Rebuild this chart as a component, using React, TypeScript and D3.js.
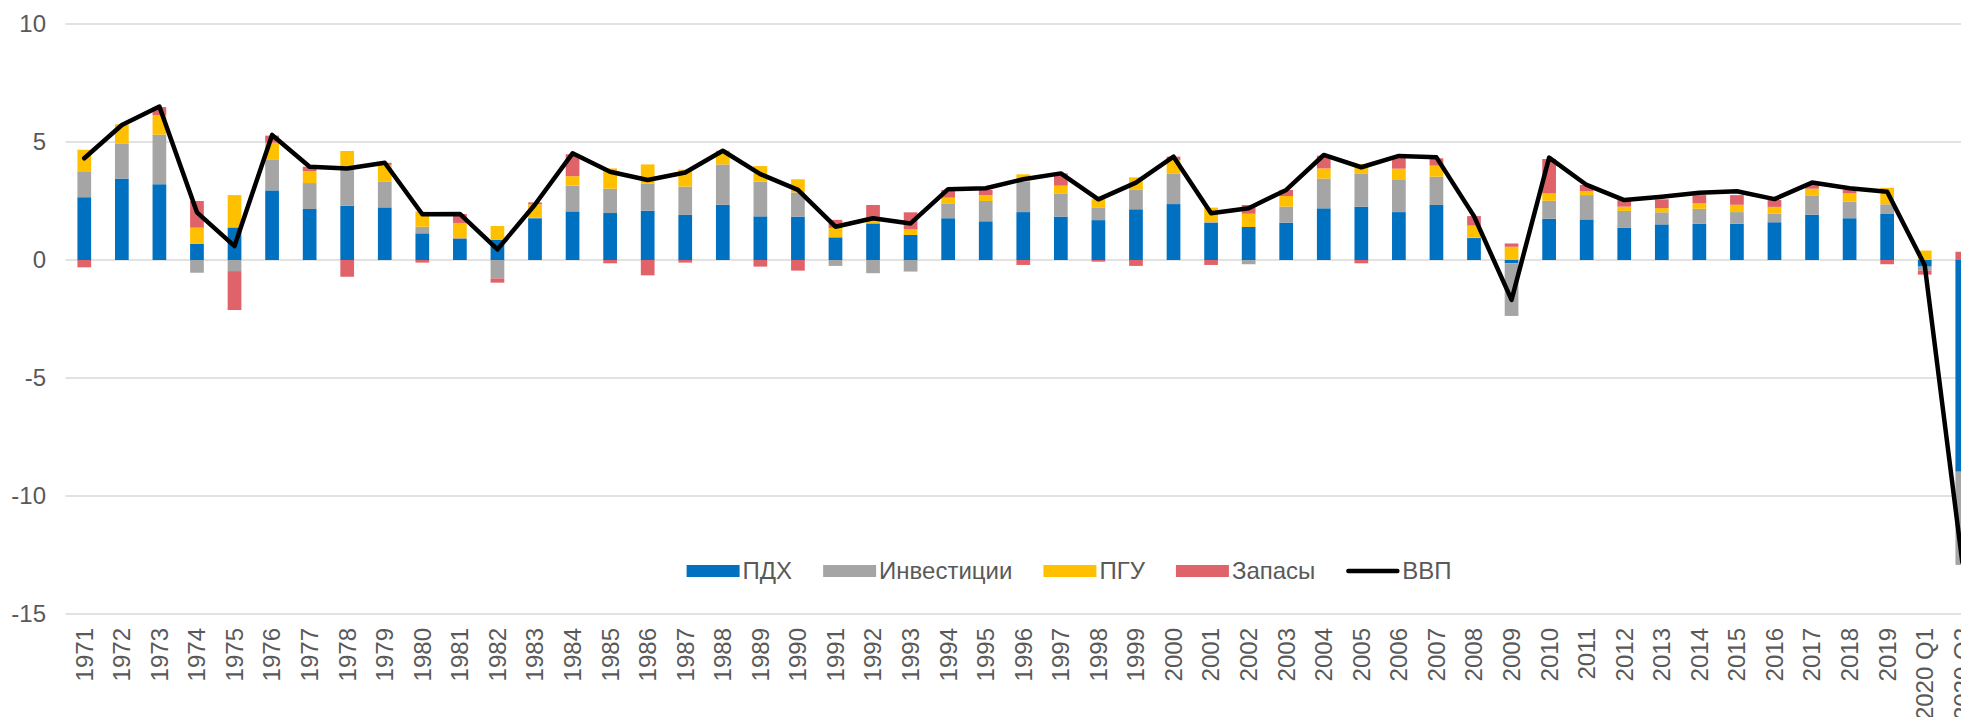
import React, { useEffect, useRef } from "react";
import * as d3 from "d3";

const categories: string[] = [
  "1971","1972","1973","1974","1975","1976","1977","1978","1979","1980",
  "1981","1982","1983","1984","1985","1986","1987","1988","1989","1990",
  "1991","1992","1993","1994","1995","1996","1997","1998","1999","2000",
  "2001","2002","2003","2004","2005","2006","2007","2008","2009","2010",
  "2011","2012","2013","2014","2015","2016","2017","2018","2019","2020 Q1","2020 Q2",
];

const pdx: number[] = [
  2.66, 3.45, 3.21, 0.69, 1.38, 2.95, 2.16, 2.30, 2.23, 1.13,
  0.89, 0.85, 1.77, 2.06, 1.99, 2.09, 1.91, 2.34, 1.85, 1.84,
  0.96, 1.55, 1.06, 1.77, 1.64, 2.03, 1.84, 1.69, 2.15, 2.37,
  1.58, 1.40, 1.58, 2.19, 2.26, 2.03, 2.33, 0.93, -0.14, 1.75,
  1.72, 1.36, 1.51, 1.53, 1.54, 1.60, 1.92, 1.77, 1.95, -0.28, -8.97,
];

const investments: number[] = [
  1.10, 1.47, 2.10, -0.54, -0.47, 1.29, 1.10, 1.65, 1.10, 0.28,
  0.04, -0.78, 0.03, 1.09, 1.03, 1.14, 1.20, 1.71, 1.47, 1.02,
  -0.25, -0.56, -0.49, 0.63, 0.86, 1.29, 0.98, 0.54, 0.82, 1.30,
  0.03, -0.18, 0.68, 1.26, 1.41, 1.39, 1.20, 0.02, -2.23, 0.76,
  1.03, 0.72, 0.51, 0.64, 0.49, 0.36, 0.82, 0.70, 0.41, -0.17, -3.95,
];

const pgu: number[] = [
  0.91, 0.83, 0.82, 0.68, 1.37, 0.73, 0.51, 0.67, 0.70, 0.64,
  0.64, 0.59, 0.56, 0.40, 0.86, 0.82, 0.72, 0.54, 0.66, 0.56,
  0.40, 0.10, 0.24, 0.24, 0.25, 0.31, 0.33, 0.35, 0.53, 0.57,
  0.61, 0.56, 0.45, 0.43, 0.40, 0.45, 0.47, 0.51, 0.56, 0.31,
  0.17, 0.18, 0.18, 0.23, 0.31, 0.29, 0.28, 0.35, 0.70, 0.40, 0.00,
];

const inventories: number[] = [
  -0.31, 0.00, 0.35, 1.13, -1.65, 0.30, 0.18, -0.71, 0.09, -0.11,
  0.38, -0.18, 0.08, 0.93, -0.14, -0.65, -0.11, 0.04, -0.28, -0.45,
  0.34, 0.68, 0.72, 0.33, 0.22, -0.21, 0.52, -0.07, -0.25, 0.14,
  -0.21, 0.37, 0.26, 0.54, -0.14, 0.51, 0.31, 0.40, 0.14, 1.46,
  0.26, 0.28, 0.37, 0.35, 0.41, 0.29, 0.16, 0.15, -0.18, -0.17, 0.35,
];

const gdp: number[] = [
  4.31, 5.72, 6.50, 2.02, 0.59, 5.30, 3.95, 3.88, 4.12, 1.94,
  1.95, 0.45, 2.35, 4.52, 3.74, 3.39, 3.71, 4.63, 3.64, 2.97,
  1.41, 1.77, 1.55, 3.00, 3.04, 3.42, 3.67, 2.57, 3.28, 4.38,
  1.98, 2.19, 2.97, 4.45, 3.93, 4.41, 4.35, 1.86, -1.69, 4.34,
  3.18, 2.54, 2.68, 2.85, 2.91, 2.58, 3.28, 3.04, 2.89, -0.22, -12.80,
];

const yTicks: number[] = [10, 5, 0, -5, -10, -15];

const barSeriesNames: string[] = ["ПДХ", "Инвестиции", "ПГУ", "Запасы"];
const barColors: string[] = ["#0070C0", "#A5A5A5", "#FFC000", "#E0636A"];
const lineName = "ВВП";

const W = 1961;
const H = 717;
const FONT = "'Liberation Sans', Arial, Helvetica, sans-serif";
const TEXT_COLOR = "#595959";

export default function App() {
  const ref = useRef<SVGSVGElement | null>(null);

  useEffect(() => {
    const svg = d3.select(ref.current);
    svg.selectAll("*").remove();

    const plotLeft = 65.5;
    const step = 37.56;
    const plotRight = plotLeft + step * categories.length;

    const x = d3
      .scaleBand<string>()
      .domain(categories)
      .range([plotLeft, plotRight])
      .paddingInner(0.635)
      .paddingOuter(0.635 / 2);

    const y = d3.scaleLinear().domain([-15, 10]).range([614, 24]);

    // gridlines
    svg
      .append("g")
      .selectAll("line")
      .data(yTicks)
      .join("line")
      .attr("x1", plotLeft)
      .attr("x2", W + 40)
      .attr("y1", (d) => y(d))
      .attr("y2", (d) => y(d))
      .attr("stroke", "#D9D9D9")
      .attr("stroke-width", 1.5);

    // y labels
    svg
      .append("g")
      .selectAll("text")
      .data(yTicks)
      .join("text")
      .attr("x", 46)
      .attr("y", (d) => y(d))
      .attr("dy", "0.35em")
      .attr("text-anchor", "end")
      .attr("font-family", FONT)
      .attr("font-size", 24)
      .attr("fill", TEXT_COLOR)
      .text((d) => String(d));

    // stacked bars
    const rows = categories.map((c, i) => ({
      cat: c,
      s0: pdx[i],
      s1: investments[i],
      s2: pgu[i],
      s3: inventories[i],
    }));
    const keys = ["s0", "s1", "s2", "s3"];
    const stacked = d3
      .stack<any>()
      .keys(keys)
      .offset(d3.stackOffsetDiverging)(rows);

    const bw = x.bandwidth();
    stacked.forEach((layer, li) => {
      svg
        .append("g")
        .selectAll("rect")
        .data(layer)
        .join("rect")
        .attr("x", (d: any) => x(d.data.cat)!)
        .attr("width", bw)
        .attr("y", (d: any) => y(Math.max(d[0], d[1])))
        .attr("height", (d: any) => Math.abs(y(d[0]) - y(d[1])))
        .attr("fill", barColors[li]);
    });

    // GDP line
    const line = d3
      .line<number>()
      .x((_, i) => x(categories[i])! + bw / 2)
      .y((d) => y(d));
    svg
      .append("path")
      .datum(gdp)
      .attr("d", line)
      .attr("fill", "none")
      .attr("stroke", "#000")
      .attr("stroke-width", 4.5)
      .attr("stroke-linejoin", "round")
      .attr("stroke-linecap", "round");

    // x labels
    svg
      .append("g")
      .selectAll("text")
      .data(categories)
      .join("text")
      .attr(
        "transform",
        (d) => `translate(${x(d)! + bw / 2},628) rotate(-90)`
      )
      .attr("dy", "0.35em")
      .attr("text-anchor", "end")
      .attr("font-family", FONT)
      .attr("font-size", 24)
      .attr("fill", TEXT_COLOR)
      .text((d) => d);

    // legend
    const legend = svg.append("g");
    const legendY = 571;
    const swW = 53;
    let cx = 686.6;
    const items = [
      ...barSeriesNames.map((n, i) => ({ name: n, color: barColors[i], kind: "bar" })),
      { name: lineName, color: "#000", kind: "line" },
    ];
    items.forEach((it) => {
      if (it.kind === "bar") {
        legend
          .append("rect")
          .attr("x", cx)
          .attr("y", legendY - 6)
          .attr("width", swW)
          .attr("height", 12)
          .attr("fill", it.color);
      } else {
        legend
          .append("line")
          .attr("x1", cx + 2)
          .attr("x2", cx + swW - 2)
          .attr("y1", legendY)
          .attr("y2", legendY)
          .attr("stroke", it.color)
          .attr("stroke-width", 4.5)
          .attr("stroke-linecap", "round");
      }
      const t = legend
        .append("text")
        .attr("x", cx + swW + 3)
        .attr("y", legendY)
        .attr("dy", "0.35em")
        .attr("font-family", FONT)
        .attr("font-size", 24)
        .attr("fill", TEXT_COLOR)
        .text(it.name);
      const tw = (t.node() as SVGTextElement).getComputedTextLength();
      cx = cx + swW + 3 + tw + 31;
    });
  }, []);

  return (
    <svg
      ref={ref}
      width={W}
      height={H}
      style={{ position: "absolute", left: 0, top: 0, background: "#fff" }}
    />
  );
}
